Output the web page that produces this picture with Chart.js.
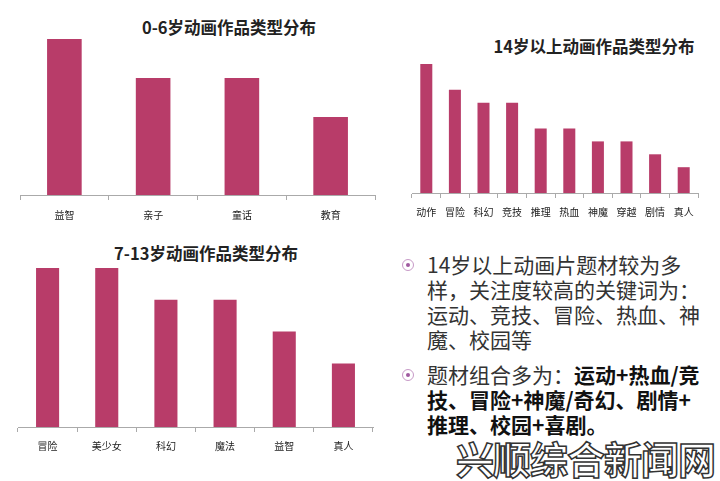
<!DOCTYPE html>
<html>
<head>
<meta charset="utf-8">
<script src="https://cdn.jsdelivr.net/npm/chart.js@4.4.0/dist/chart.umd.min.js"></script>
<style>
  body { margin: 0; background: #fff; width: 720px; height: 481px; overflow: hidden; position: relative;
         font-family: "Noto Sans CJK SC", "Noto Sans", sans-serif; }
  .box { position: absolute; }
  .ttl { position: absolute; font-weight: bold; font-size: 16.5px; color: #222; white-space: nowrap; transform: translateX(-50%); }
  .txt { position: absolute; left: 427px; font-size: 21px; line-height: 25px; color: #333; white-space: nowrap; }
  .dot { position: absolute; left: 402px; width: 10px; height: 10px; border: 1px solid #c79ac7; border-radius: 50%; }
  .dot::after { content: ""; position: absolute; left: 3px; top: 3px; width: 4px; height: 4px; border-radius: 50%; background: #a05aa0; }
  .wm { position: absolute; left: 456px; top: 430px; font-size: 38px; font-weight: bold; color: #fff;
        -webkit-text-stroke: 1.5px #333; letter-spacing: -1px; white-space: nowrap; }
</style>
</head>
<body>
<div class="ttl" style="left:229px;top:15px">0-6岁动画作品类型分布</div>
<div class="ttl" style="left:594px;top:34px">14岁以上动画作品类型分布</div>
<div class="ttl" style="left:206px;top:241px">7-13岁动画作品类型分布</div>

<div class="box" style="left:0;top:0;width:390px;height:235px"><canvas id="c1"></canvas></div>
<div class="box" style="left:390px;top:0;width:330px;height:230px"><canvas id="c2"></canvas></div>
<div class="box" style="left:0;top:235px;width:390px;height:246px"><canvas id="c3"></canvas></div>

<span class="dot" style="top:259px"></span>
<div class="txt" style="top:252px">14岁以上动画片题材较为多<br>样，关注度较高的关键词为：<br>运动、竞技、冒险、热血、神<br>魔、校园等</div>
<span class="dot" style="top:369px"></span>
<div class="txt" style="top:362px">题材组合多为：<b style="color:#111">运动+热血/竞<br>技、冒险+神魔/奇幻、剧情+<br>推理、校园+喜剧。</b></div>
<div class="wm">兴顺综合新闻网</div>

<script>
const kidLabels = ["益智", "亲子", "童话", "教育"];
const kidValues = [4, 3, 3, 2];

const teenLabels = ["动作", "冒险", "科幻", "竞技", "推理", "热血", "神魔", "穿越", "剧情", "真人"];
const teenValues = [10, 8, 7, 7, 5, 5, 4, 4, 3, 2];

const childLabels = ["冒险", "美少女", "科幻", "魔法", "益智", "真人"];
const childValues = [5, 5, 4, 4, 3, 2];

const barColor = "#b83c69";

function makeChart(id, labels, values, opt) {
  new Chart(document.getElementById(id), {
    type: "bar",
    data: {
      labels: labels,
      datasets: [{ data: values, backgroundColor: barColor, borderWidth: 0,
                   barPercentage: opt.bar, categoryPercentage: 1 }]
    },
    options: {
      responsive: true,
      maintainAspectRatio: false,
      animation: false,
      layout: { padding: opt.pad },
      plugins: { legend: { display: false }, tooltip: { enabled: false } },
      scales: {
        y: { display: false, min: 0, max: opt.max },
        x: {
          grid: { offset: true, drawOnChartArea: false, drawTicks: true, tickLength: 5, color: "#aaa" },
          border: { display: true, color: "#aaa" },
          ticks: { color: "#222", padding: opt.tickPad, font: { size: opt.font, family: "Noto Sans CJK SC" }, maxRotation: 0, autoSkip: false },
          afterFit: function (s) { s.height = opt.h; }
        }
      }
    }
  });
}

makeChart("c1", kidLabels, kidValues, { max: 4, bar: 0.39, pad: { top: 39, left: 20, right: 15, bottom: 0 }, tickPad: 9, font: 10, h: 40 });
makeChart("c2", teenLabels, teenValues, { max: 10, bar: 0.42, pad: { top: 64, left: 22, right: 22, bottom: 0 }, tickPad: 8, font: 10, h: 37 });
makeChart("c3", childLabels, childValues, { max: 5, bar: 0.39, pad: { top: 33, left: 18, right: 17, bottom: 0 }, tickPad: 8, font: 10, h: 54 });
</script>
</body>
</html>
